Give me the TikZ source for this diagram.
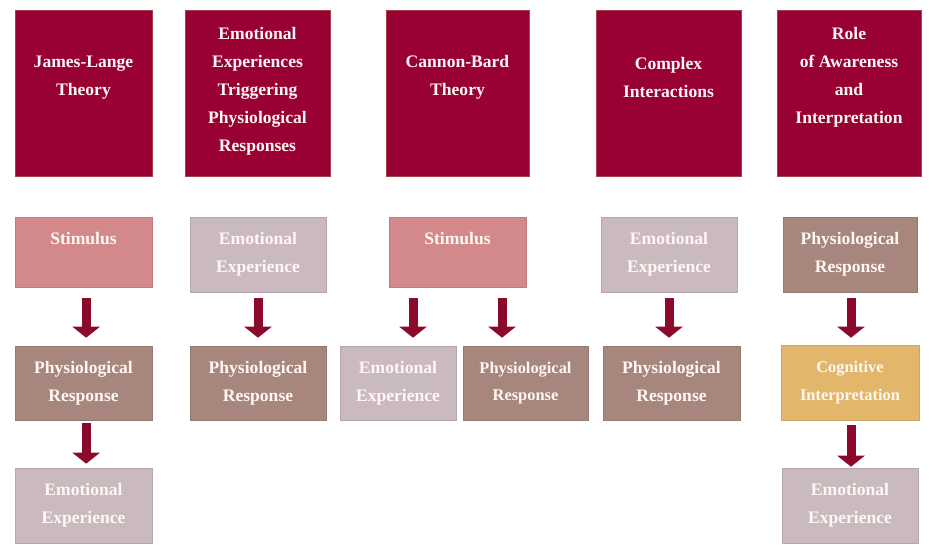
\documentclass[tikz,border=0pt]{standalone}
\usepackage{fontspec}
\setmainfont{Liberation Serif}
\usetikzlibrary{arrows.meta}

\definecolor{hdrred}{HTML}{990033}
\definecolor{hdrline}{HTML}{A8404F}
\definecolor{stimfill}{HTML}{D3898B}
\definecolor{emofill}{HTML}{CBB9C0}
\definecolor{physfill}{HTML}{A6867D}
\definecolor{cogfill}{HTML}{E3B76B}
\definecolor{arrowred}{HTML}{8B0A2C}
\definecolor{paletext}{HTML}{FFF8F2}

\tikzset{
  box/.style={rectangle, inner sep=0pt, align=center, text=paletext,
    line width=0.5pt, font=\bfseries\fontsize{15}{23.8}\selectfont},
  hdrbox/.style={box, fill=hdrred, draw=hdrline, minimum height=4.98cm},
  hdrtxt/.style={inner sep=0pt, align=center, text=paletext,
    font=\bfseries\fontsize{15}{23.8}\selectfont},
  stimbox/.style={box, fill=stimfill, draw=stimfill!90!black, minimum height=2.1cm},
  emobox/.style={box, fill=emofill, draw=emofill!90!black},
  physbox/.style={box, fill=physfill, draw=physfill!90!black},
  cogbox/.style={box, fill=cogfill, draw=cogfill!90!black},
  smaller/.style={font=\bfseries\fontsize{14}{23.8}\selectfont},
  downarrow/.style={draw=arrowred, line width=0.27cm,
    -{Triangle[width=0.81cm, length=0.33cm]}, arrowred}
}

\begin{document}
\begin{tikzpicture}[x=0.03cm, y=-0.03cm]
\useasboundingbox (0,0) rectangle (945,558);

% header row
\node[hdrbox, minimum width=4.11cm] (jl) at (83.5,93) {};
\node[hdrbox, minimum width=4.35cm] (ee) at (257.5,93) {};
\node[hdrbox, minimum width=4.29cm] (cb) at (457.5,93) {};
\node[hdrbox, minimum width=4.35cm] (ci) at (668.5,93) {};
\node[hdrbox, minimum width=4.32cm] (ra) at (849,93) {};
\node[hdrtxt] (jltxt) at (83.5,77.5) {James-Lange\\Theory};
\node[hdrtxt] (eetxt) at (257.5,91.5) {Emotional\\Experiences\\Triggering\\Physiological\\Responses};
\node[hdrtxt] (cbtxt) at (457.5,77.5) {Cannon-Bard\\Theory};
\node[hdrtxt] (citxt) at (668.5,77.5) {Complex\\Interactions};
\node[hdrtxt] (ratxt) at (849,77.5) {Role\\of Awareness\\and\\Interpretation};

% James-Lange
\node[stimbox, minimum width=4.11cm] (jlstim) at (83.5,252) {Stimulus\\\mbox{}};
\node[physbox, minimum width=4.11cm, minimum height=2.22cm] (jlphys) at (83.5,383) {Physiological\\Response};
\node[emobox, minimum width=4.11cm, minimum height=2.25cm] (jlemo) at (83.5,505.5) {Emotional\\Experience};

% emotional experiences first
\node[emobox, minimum width=4.08cm, minimum height=2.25cm] (eeemo) at (258,254.5) {Emotional\\Experience};
\node[physbox, minimum width=4.08cm, minimum height=2.22cm] (eephys) at (258,383) {Physiological\\Response};

% Cannon-Bard
\node[stimbox, minimum width=4.11cm] (cbstim) at (457.5,252) {Stimulus\\\mbox{}};
\node[emobox, minimum width=3.48cm, minimum height=2.22cm] (cbemo) at (398,383) {Emotional\\Experience};
\node[physbox, smaller, minimum width=3.75cm, minimum height=2.22cm] (cbphys) at (525.5,383) {Physiological\\Response};

% complex interactions
\node[emobox, minimum width=4.08cm, minimum height=2.25cm] (ciemo) at (669,254.5) {Emotional\\Experience};
\node[physbox, minimum width=4.11cm, minimum height=2.22cm] (ciphys) at (671.5,383) {Physiological\\Response};

% awareness and interpretation
\node[physbox, minimum width=4.02cm, minimum height=2.25cm] (raphys) at (850,254.5) {Physiological\\Response};
\node[cogbox, smaller, minimum width=4.14cm, minimum height=2.25cm] (racog) at (850,382.5) {Cognitive\\Interpretation};
\node[emobox, minimum width=4.08cm, minimum height=2.25cm] (raemo) at (850,505.5) {Emotional\\Experience};

% arrows
\draw[downarrow, shorten <=0.33cm, shorten >=0.24cm] ([xshift=0.08cm]jlstim.south) -- ([xshift=0.08cm]jlphys.north);
\draw[downarrow, shorten <=0.09cm, shorten >=0.12cm] ([xshift=0.08cm]jlphys.south) -- ([xshift=0.08cm]jlemo.north);
\draw[downarrow, shorten <=0.18cm, shorten >=0.24cm] (eeemo) -- (eephys);
\draw[downarrow, shorten <=0.33cm, shorten >=0.24cm] ([xshift=-1.335cm]cbstim.south) -- ([xshift=-1.335cm]cbstim.south |- cbemo.north);
\draw[downarrow, shorten <=0.33cm, shorten >=0.24cm] ([xshift=1.335cm]cbstim.south) -- ([xshift=1.335cm]cbstim.south |- cbphys.north);
\draw[downarrow, shorten <=0.18cm, shorten >=0.24cm] (ciemo.south) -- (ciemo.south |- ciphys.north);
\draw[downarrow, shorten <=0.18cm, shorten >=0.21cm] ([xshift=0.03cm]raphys.south) -- ([xshift=0.03cm]racog.north);
\draw[downarrow, shorten <=0.15cm, shorten >=0.03cm] ([xshift=0.03cm]racog.south) -- ([xshift=0.03cm]raemo.north);
\end{tikzpicture}
\end{document}
